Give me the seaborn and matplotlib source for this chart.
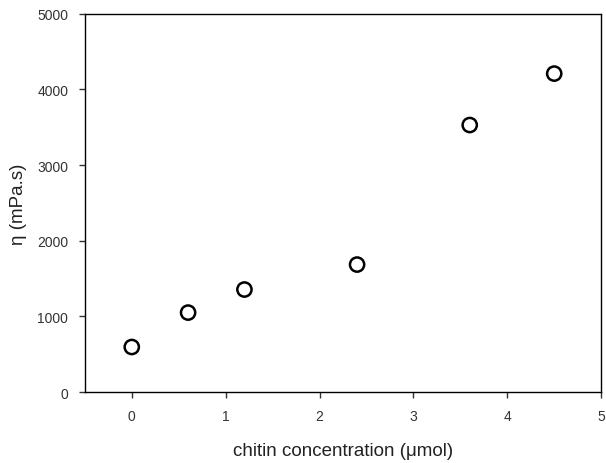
import matplotlib
matplotlib.use("Agg")
import matplotlib.pyplot as plt
import seaborn as sns
import pandas as pd

# dữ liệu
chitin = [0, 0.6, 1.2, 2.4, 3.6, 4.5]
viscosity = [595, 1050, 1355, 1685, 3530, 4210]

df = pd.DataFrame({"chitin": chitin, "eta": viscosity})

sns.set_style("ticks")
plt.rcParams['font.family'] = ['Liberation Sans', 'DejaVu Sans']

fig = plt.figure(figsize=(6.06, 4.64), dpi=100)
ax = fig.add_axes([0.140, 0.153, 0.852, 0.815])

sns.scatterplot(
    data=df,
    x="chitin",
    y="eta",
    marker="o",
    s=105,
    facecolor="none",
    edgecolor="black",
    linewidth=1.8,
    ax=ax
)

ax.set_xlim(-0.5, 5)
ax.set_ylim(0, 5000)
ax.set_xticks([0, 1, 2, 3, 4, 5])
ax.set_yticks([0, 1000, 2000, 3000, 4000, 5000])

for s in ax.spines.values():
    s.set_visible(True)
    s.set_color("black")
    s.set_linewidth(1.0)

ax.tick_params(direction="out", length=4, width=1, labelsize=10, colors="#333333", pad=8)

ax.set_xlabel("chitin concentration (\u03bcmol)", fontsize=13.5, labelpad=14, color="#222222")
ax.set_ylabel("\u03b7 (mPa.s)", fontsize=13.5, labelpad=7, color="#222222")

plt.savefig("out.png", dpi=100)
